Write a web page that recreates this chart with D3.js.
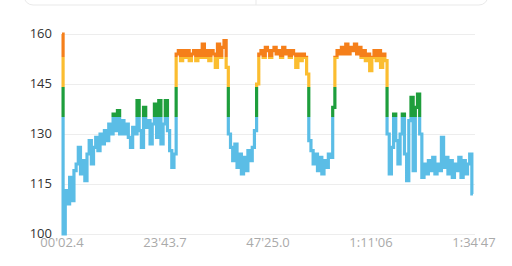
<!DOCTYPE html>
<html>
<head>
<meta charset="utf-8">
<script src="https://cdn.jsdelivr.net/npm/d3@7"></script>
<style>
  body { margin: 0; background: #fff; }
  svg { display: block; font-family: "Open Sans", sans-serif; }
</style>
</head>
<body>
<script>
// heart rate, one sample every half minute from 00'02.4
const startMin = 0.04;
const stepMin = 0.5;
const hr = [
  160, 100, 113, 109, 117, 110, 119, 121, 126, 118,
  122, 116, 124, 128, 121, 126, 129, 125, 130, 127,
  131, 128, 133, 130, 136, 131, 137, 130, 134, 130,
  133, 129, 126, 132, 130, 140, 131, 126, 138, 132,
  134, 127, 133, 139, 129, 140, 127, 133, 140, 131,
  125, 120, 124, 154, 155, 152, 155, 153, 155, 152,
  154, 155, 152, 155, 153, 157, 153, 155, 152, 155,
  154, 150, 157, 153, 156, 158, 150, 130, 126, 122,
  127, 120, 124, 118, 123, 119, 125, 122, 126, 131,
  145, 154, 155, 153, 156, 155, 153, 155, 156, 154,
  155, 153, 156, 154, 155, 153, 155, 154, 150, 154,
  152, 154, 153, 148, 128, 125, 121, 124, 119, 123,
  118, 122, 120, 124, 123, 138, 153, 155, 154, 156,
  154, 157, 154, 156, 155, 157, 154, 156, 153, 155,
  152, 154, 149, 153, 155, 152, 155, 150, 154, 152,
  130, 118, 126, 136, 128, 121, 130, 136, 124, 116,
  134, 141, 119, 138, 142, 130, 117, 121, 118, 122,
  119, 123, 118, 121, 119, 129, 120, 123, 118, 122,
  117, 121, 119, 123, 117, 122, 118, 121, 124, 112
];

const yTicks = [100, 115, 130, 145, 160];
const xTickMin = [0.04, 23.728, 47.417, 71.1, 94.783];
const xTickLabels = ["00'02.4", "23'43.7", "47'25.0", "1:11'06", "1:34'47"];

// zone limits (bpm) and colours
const zoneLimits = [135, 144, 153];
const zoneColors = ["#5bbde6", "#1e9e3c", "#fbbd30", "#f57f1a"];

const W = 512, H = 266;
const margin = { left: 62, right: 38, top: 34, bottom: 32 };

const svg = d3.select("body").append("svg")
  .attr("width", W).attr("height", H);

// bottom edge of the card above the chart
svg.append("rect")
  .attr("x", 24).attr("y", -30).attr("width", 464).attr("height", 35)
  .attr("rx", 9).attr("fill", "#fff").attr("stroke", "#e9e9e9");
svg.append("line")
  .attr("x1", 256).attr("x2", 256).attr("y1", -2).attr("y2", 5)
  .attr("stroke", "#e9e9e9");

const x = d3.scaleLinear()
  .domain([xTickMin[0], xTickMin[xTickMin.length - 1]])
  .range([margin.left, W - margin.right]);

const y = d3.scaleLinear()
  .domain([100, 160])
  .range([H - margin.bottom, margin.top]);

// grid
svg.append("g")
  .selectAll("line")
  .data(yTicks)
  .join("line")
  .attr("x1", margin.left).attr("x2", W - margin.right + 1)
  .attr("y1", d => y(d) + 0.5).attr("y2", d => y(d) + 0.5)
  .attr("stroke", "#ededed");

// y labels
svg.append("g")
  .selectAll("text")
  .data(yTicks)
  .join("text")
  .attr("x", 52).attr("y", d => y(d) + 4)
  .attr("text-anchor", "end")
  .attr("font-size", 13)
  .attr("fill", "#333")
  .text(d => d);

// x labels
svg.append("g")
  .selectAll("text")
  .data(xTickMin)
  .join("text")
  .attr("x", d => x(d))
  .attr("y", 247)
  .attr("text-anchor", "middle")
  .attr("font-size", 13)
  .attr("fill", "#aaa")
  .text((d, i) => xTickLabels[i]);

// zone gradient along y
const stops = [];
zoneColors.forEach((c, i) => {
  const lo = i === 0 ? 100 : zoneLimits[i - 1];
  const hi = i === zoneColors.length - 1 ? 160 : zoneLimits[i];
  stops.push({ v: lo, c }, { v: hi, c });
});

const grad = svg.append("defs").append("linearGradient")
  .attr("id", "zones")
  .attr("gradientUnits", "userSpaceOnUse")
  .attr("x1", 0).attr("x2", 0)
  .attr("y1", y(100)).attr("y2", y(160));

grad.selectAll("stop")
  .data(stops)
  .join("stop")
  .attr("offset", d => (d.v - 100) / 60)
  .attr("stop-color", d => d.c);

const line = d3.line()
  .x((d, i) => x(startMin + i * stepMin))
  .y(d => y(d))
  .curve(d3.curveStep);

svg.append("path")
  .datum(hr)
  .attr("d", line)
  .attr("fill", "none")
  .attr("stroke", "url(#zones)")
  .attr("stroke-width", 3.2)
  .attr("stroke-linejoin", "miter");
</script>
</body>
</html>
